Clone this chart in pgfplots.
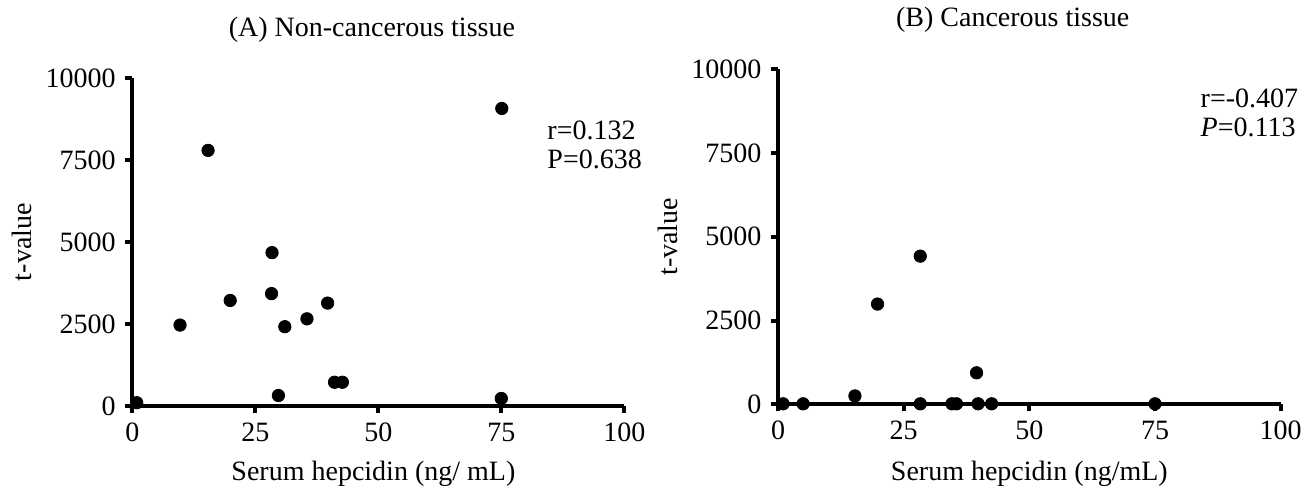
\documentclass[border=0pt]{standalone}
\usepackage{pgfplots}
\pgfplotsset{compat=1.18}
\usepackage{fontspec}
\setmainfont{Liberation Serif}
\begin{document}
\fontsize{14}{14.5}\selectfont
\begin{tikzpicture}
\path[use as bounding box] (0,0) rectangle (656pt,244.5pt);
\pgfplotsset{
  myax/.style={
    scale only axis,
    axis lines=left,
    axis line style={-, line width=2pt},
    xmin=0, xmax=100, ymin=0, ymax=10000,
    xtick={0,25,50,75,100},
    ytick={0,2500,5000,7500,10000},
    tick align=outside,
    major tick length=3.5pt,
    tick style={line width=2pt, black},
    scaled ticks=false,
    /pgf/number format/1000 sep={},
    /pgf/number format/assume math mode=true,
    tick label style={font=\fontsize{14}{14.5}\selectfont},
    label style={font=\fontsize{14}{14.5}\selectfont},
    clip=false,
  },
  dots/.style={only marks, mark=*, mark size=3.1pt, black, mark options={fill=black, draw=black}},
}
% (A)
\begin{axis}[myax,
  width=246pt, height=163.85pt,
  at={(66.15pt,41.5pt)}, anchor=south west,
  xlabel={Serum hepcidin (ng/ mL)},
  ylabel={t-value},
  xlabel style={at={(axis description cs:0.49,-0.2075)}, anchor=center},
  ylabel style={at={(axis description cs:-0.224,0.5)}, anchor=center},
]
\addplot[dots] coordinates {
(0.9,100) (9.7,2470) (15.4,7800) (19.9,3220) (28.4,4680) (28.3,3430)
(31.0,2420) (35.5,2660) (39.7,3140) (29.7,320) (41.1,725) (42.7,725)
(75.1,9080) (75.0,230)
};
\node[anchor=west, align=left, inner sep=0pt] at (axis cs:84.3,7974) {r=0.132\\P=0.638};
\node[anchor=center, inner sep=0pt] at (rel axis cs:0.487,1.147) {(A) Non-cancerous tissue};
\end{axis}
% (B)
\begin{axis}[myax,
  width=251.35pt, height=167.6pt,
  at={(389pt,42.35pt)}, anchor=south west,
  xlabel={Serum hepcidin (ng/mL)},
  ylabel={t-value},
  xlabel style={at={(axis description cs:0.50,-0.208)}, anchor=center},
  ylabel style={at={(axis description cs:-0.219,0.5)}, anchor=center},
]
\addplot[dots] coordinates {
(1.0,15) (5.0,15) (15.3,250) (19.8,2990) (28.3,4420) (28.3,15)
(34.6,15) (35.5,15) (39.5,940) (39.8,15) (42.5,15) (75.0,15)
};
\node[anchor=west, align=left, inner sep=0pt] at (axis cs:84.0,8690) {r=-0.407\\\textit{P}=0.113};
\node[anchor=center, inner sep=0pt] at (rel axis cs:0.467,1.146) {(B) Cancerous tissue};
\end{axis}
\end{tikzpicture}
\end{document}
